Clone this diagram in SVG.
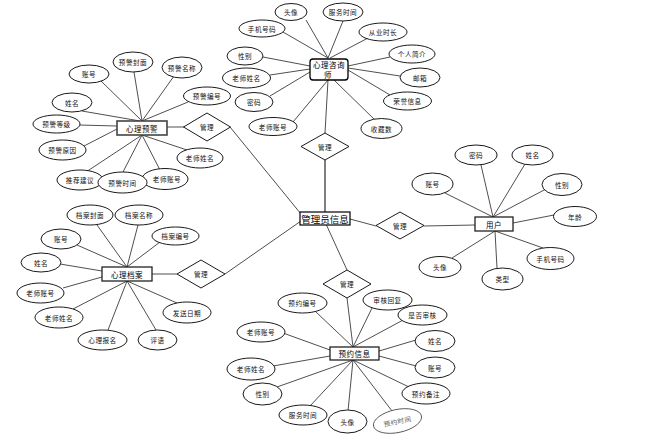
<svg xmlns="http://www.w3.org/2000/svg" width="651" height="435" viewBox="0 0 651 435">
<style>
.e{fill:#fff;stroke:#000;stroke-width:0.9}
.b{fill:#fff;stroke:#000;stroke-width:1.3}
.d{fill:#fff;stroke:#000;stroke-width:0.9}
.t{font-family:"Noto Sans CJK SC","Liberation Sans",sans-serif;font-size:6.6px;text-anchor:middle;dominant-baseline:central;fill:#111;letter-spacing:0.5px}
.tb{font-family:"Noto Sans CJK SC","Liberation Sans",sans-serif;font-size:7.5px;text-anchor:middle;dominant-baseline:central;fill:#000;letter-spacing:0.5px}
.c line{stroke:#222;stroke-width:0.8}
</style>
<rect width="651" height="435" fill="#fff"/>
<g id="connectors" class="c">
<line x1="306" y1="20" x2="328" y2="58"/>
<line x1="343" y1="21" x2="328" y2="58"/>
<line x1="283" y1="32" x2="328" y2="58"/>
<line x1="368" y1="38" x2="330" y2="58"/>
<line x1="263" y1="57" x2="310" y2="66"/>
<line x1="270" y1="75" x2="310" y2="69"/>
<line x1="270" y1="96" x2="310" y2="72"/>
<line x1="293" y1="122" x2="328" y2="80"/>
<line x1="390" y1="57" x2="348" y2="66"/>
<line x1="400" y1="76" x2="348" y2="68"/>
<line x1="390" y1="95" x2="348" y2="70"/>
<line x1="375" y1="120" x2="334" y2="80"/>
<line x1="328" y1="80" x2="325" y2="133"/>
<line x1="325" y1="160" x2="325" y2="212" style="stroke:#555;stroke-width:1.5"/>
<line x1="101" y1="81" x2="142" y2="121"/>
<line x1="134" y1="72" x2="142" y2="121"/>
<line x1="174" y1="76" x2="142" y2="121"/>
<line x1="188" y1="102" x2="142" y2="121"/>
<line x1="82" y1="111" x2="140" y2="121"/>
<line x1="79" y1="125" x2="117" y2="126"/>
<line x1="84" y1="146" x2="117" y2="129"/>
<line x1="86" y1="172" x2="142" y2="135"/>
<line x1="123" y1="172" x2="142" y2="135"/>
<line x1="160" y1="170" x2="142" y2="135"/>
<line x1="187" y1="150" x2="142" y2="135"/>
<line x1="167" y1="127" x2="184" y2="127"/>
<line x1="230" y1="127" x2="301" y2="214"/>
<line x1="97" y1="225" x2="127" y2="267"/>
<line x1="138" y1="225" x2="127" y2="267"/>
<line x1="160" y1="242" x2="127" y2="267"/>
<line x1="77" y1="245" x2="127" y2="267"/>
<line x1="60" y1="264" x2="102" y2="271"/>
<line x1="63" y1="288" x2="102" y2="277"/>
<line x1="73" y1="309" x2="127" y2="281"/>
<line x1="108" y1="330" x2="127" y2="281"/>
<line x1="156" y1="330" x2="127" y2="281"/>
<line x1="177" y1="303" x2="127" y2="281"/>
<line x1="152" y1="274" x2="177" y2="274"/>
<line x1="225" y1="274" x2="301" y2="221"/>
<line x1="350" y1="219" x2="376" y2="226"/>
<line x1="326" y1="224" x2="347" y2="270"/>
<line x1="347" y1="298" x2="353" y2="347"/>
<line x1="424" y1="226" x2="475" y2="225"/>
<line x1="445" y1="193" x2="493" y2="217"/>
<line x1="481" y1="165" x2="493" y2="217"/>
<line x1="525" y1="164" x2="493" y2="217"/>
<line x1="546" y1="189" x2="493" y2="217"/>
<line x1="554" y1="215" x2="513" y2="223"/>
<line x1="543" y1="248" x2="495" y2="231"/>
<line x1="452" y1="258" x2="495" y2="231"/>
<line x1="497" y1="268" x2="495" y2="231"/>
<line x1="316" y1="312" x2="353" y2="347"/>
<line x1="372" y1="308" x2="353" y2="347"/>
<line x1="405" y1="319" x2="353" y2="347"/>
<line x1="283" y1="333" x2="330" y2="350"/>
<line x1="273" y1="366" x2="330" y2="356"/>
<line x1="416" y1="340" x2="379" y2="351"/>
<line x1="416" y1="366" x2="379" y2="356"/>
<line x1="277" y1="387" x2="353" y2="360"/>
<line x1="310" y1="406" x2="353" y2="360"/>
<line x1="348" y1="411" x2="353" y2="360"/>
<line x1="392" y1="411" x2="353" y2="360"/>
<line x1="409" y1="387" x2="353" y2="360"/>
</g>

<g id="zxs">
<rect class="b" x="310" y="59" width="38" height="21" rx="3"/>
<text class="tb" x="329" y="64.5">心理咨询</text>
<text class="tb" x="328" y="74">师</text>
</g>
<g id="zxs-tx"><ellipse class="e" cx="291" cy="12" rx="16" ry="8.5"/><text class="t" x="291" y="12">头像</text></g>
<g id="zxs-fwsj"><ellipse class="e" cx="343" cy="12" rx="20" ry="9"/><text class="t" x="343" y="12">服务时间</text></g>
<g id="zxs-sjhm"><ellipse class="e" cx="262" cy="28.5" rx="23" ry="8.5"/><text class="t" x="262" y="28.5">手机号码</text></g>
<g id="zxs-cysc"><ellipse class="e" cx="383" cy="32" rx="24" ry="9"/><text class="t" x="383" y="32">从业时长</text></g>
<g id="zxs-xb"><ellipse class="e" cx="245" cy="56" rx="18" ry="9"/><text class="t" x="245" y="56">性别</text></g>
<g id="zxs-grjj"><ellipse class="e" cx="412" cy="54" rx="23" ry="9"/><text class="t" x="412" y="54">个人简介</text></g>
<g id="zxs-lsxm"><ellipse class="e" cx="246.5" cy="78" rx="24" ry="10"/><text class="t" x="246.5" y="78">老师姓名</text></g>
<g id="zxs-yx"><ellipse class="e" cx="420" cy="77.5" rx="20" ry="9.5"/><text class="t" x="420" y="77.5">邮箱</text></g>
<g id="zxs-mm"><ellipse class="e" cx="254" cy="102" rx="19" ry="9.5"/><text class="t" x="254" y="102">密码</text></g>
<g id="zxs-ryxx"><ellipse class="e" cx="407.5" cy="101" rx="24" ry="9"/><text class="t" x="407.5" y="101">荣誉信息</text></g>
<g id="zxs-lszh"><ellipse class="e" cx="273" cy="126.5" rx="24" ry="9"/><text class="t" x="273" y="126.5">老师账号</text></g>
<g id="zxs-scs"><ellipse class="e" cx="381.5" cy="128.5" rx="20.5" ry="10"/><text class="t" x="381.5" y="128.5">收藏数</text></g>
<g id="gl-top"><polygon class="d" points="325,133 349,146.5 325,160 301,146.5"/><text class="t" x="325" y="146.5">管理</text></g>

<g id="gly">
<rect x="300" y="212" width="50" height="13" fill="#fff" stroke="#000" stroke-width="1.2"/>
<text x="325" y="218.5" style="font-family:'Noto Sans CJK SC',sans-serif;font-size:9.5px;text-anchor:middle;dominant-baseline:central;fill:#000">管理员信息</text>
</g>

<g id="yj">
<rect x="117" y="121" width="50" height="14" fill="#fff" stroke="#444" stroke-width="1.6"/>
<text class="tb" x="142" y="128">心理预警</text>
</g>
<g id="yj-zh"><ellipse class="e" cx="89" cy="74" rx="20" ry="9"/><text class="t" x="89" y="74">账号</text></g>
<g id="yj-fm"><ellipse class="e" cx="133" cy="62" rx="20" ry="10"/><text class="t" x="133" y="62">预警封面</text></g>
<g id="yj-mc"><ellipse class="e" cx="182" cy="67.5" rx="20" ry="10.5"/><text class="t" x="182" y="67.5">预警名称</text></g>
<g id="yj-bh"><ellipse class="e" cx="207" cy="96" rx="23.5" ry="9"/><text class="t" x="207" y="96">预警编号</text></g>
<g id="yj-xm"><ellipse class="e" cx="72" cy="102.5" rx="20" ry="9.5"/><text class="t" x="72" y="102.5">姓名</text></g>
<g id="yj-dj"><ellipse class="e" cx="56.5" cy="124" rx="23.5" ry="9"/><text class="t" x="56.5" y="124">预警等级</text></g>
<g id="yj-yy"><ellipse class="e" cx="62.5" cy="150" rx="23.5" ry="10"/><text class="t" x="62.5" y="150">预警原因</text></g>
<g id="yj-lsxm"><ellipse class="e" cx="200" cy="158" rx="23" ry="10"/><text class="t" x="200" y="158">老师姓名</text></g>
<g id="yj-tjjy"><ellipse class="e" cx="80" cy="180" rx="23" ry="10"/><text class="t" x="80" y="180">推荐建议</text></g>
<g id="yj-lszh"><ellipse class="e" cx="165" cy="179" rx="23" ry="10.5"/><text class="t" x="167" y="179">老师账号</text></g>
<g id="yj-sj"><ellipse class="e" cx="122.5" cy="182.5" rx="24.5" ry="10.5"/><text class="t" x="122.5" y="182.5">预警时间</text></g>
<g id="gl-yj"><polygon class="d" points="207,113 230.5,127 207,141 183.5,127"/><text class="t" x="207" y="127">管理</text></g>

<g id="da">
<rect x="102" y="267" width="50" height="14" fill="#fff" stroke="#222" stroke-width="1.3"/>
<text class="tb" x="127" y="274">心理档案</text>
</g>
<g id="da-fm"><ellipse class="e" cx="90" cy="215" rx="23" ry="10"/><text class="t" x="90" y="215">档案封面</text></g>
<g id="da-mc"><ellipse class="e" cx="139" cy="215" rx="24" ry="10"/><text class="t" x="139" y="215">档案名称</text></g>
<g id="da-bh"><ellipse class="e" cx="175.5" cy="236" rx="23.5" ry="9"/><text class="t" x="175.5" y="236">档案编号</text></g>
<g id="da-zh"><ellipse class="e" cx="61" cy="239" rx="20" ry="10"/><text class="t" x="61" y="239">账号</text></g>
<g id="da-xm"><ellipse class="e" cx="41" cy="262.5" rx="20" ry="9.5"/><text class="t" x="41" y="262.5">姓名</text></g>
<g id="da-lszh"><ellipse class="e" cx="40.5" cy="293" rx="23.5" ry="10"/><text class="t" x="40.5" y="293">老师账号</text></g>
<g id="da-lsxm"><ellipse class="e" cx="59" cy="317.5" rx="24" ry="10.5"/><text class="t" x="59" y="317.5">老师姓名</text></g>
<g id="da-fsrq"><ellipse class="e" cx="187" cy="312.5" rx="24" ry="10.5"/><text class="t" x="187" y="312.5">发送日期</text></g>
<g id="da-xlbm"><ellipse class="e" cx="102.5" cy="340" rx="24.5" ry="10"/><text class="t" x="102.5" y="340">心理报名</text></g>
<g id="da-py"><ellipse class="e" cx="157.5" cy="340" rx="19.5" ry="10"/><text class="t" x="157.5" y="340">评语</text></g>
<g id="gl-da"><polygon class="d" points="201,260 225,274 201,288 177,274"/><text class="t" x="201" y="274">管理</text></g>

<g id="gl-yh"><polygon class="d" points="400,212 424,225.5 400,239 376,225.5"/><text class="t" x="400" y="225.5">管理</text></g>
<g id="yh">
<rect x="475" y="217" width="38" height="14" fill="#fff" stroke="#222" stroke-width="1.3"/>
<text class="tb" x="494" y="224">用户</text>
</g>
<g id="yh-mm"><ellipse class="e" cx="476" cy="155" rx="21" ry="10"/><text class="t" x="476" y="155">密码</text></g>
<g id="yh-xm"><ellipse class="e" cx="532.5" cy="155" rx="20.5" ry="10"/><text class="t" x="532.5" y="155">姓名</text></g>
<g id="yh-zh"><ellipse class="e" cx="432.5" cy="184" rx="20.5" ry="11"/><text class="t" x="432.5" y="184">账号</text></g>
<g id="yh-xb"><ellipse class="e" cx="562" cy="184.5" rx="20" ry="11"/><text class="t" x="562" y="184.5">性别</text></g>
<g id="yh-nl"><ellipse class="e" cx="575" cy="216.5" rx="21.5" ry="10"/><text class="t" x="575" y="216.5">年龄</text></g>
<g id="yh-sjhm"><ellipse class="e" cx="550.5" cy="258.5" rx="23.5" ry="11"/><text class="t" x="550.5" y="258.5">手机号码</text></g>
<g id="yh-tx"><ellipse class="e" cx="440" cy="267" rx="21" ry="10.5"/><text class="t" x="440" y="267">头像</text></g>
<g id="yh-lx"><ellipse class="e" cx="502.5" cy="279" rx="20.5" ry="11"/><text class="t" x="502.5" y="279">类型</text></g>

<g id="gl-yy"><polygon class="d" points="347,270 371,284 347,298 323,284"/><text class="t" x="347" y="284">管理</text></g>
<g id="yy">
<rect x="330" y="347" width="49" height="13" fill="#fff" stroke="#222" stroke-width="1.3"/>
<text class="tb" x="354.5" y="353.5">预约信息</text>
</g>
<g id="yy-bh"><ellipse class="e" cx="302.5" cy="303" rx="24.5" ry="10"/><text class="t" x="302.5" y="303">预约编号</text></g>
<g id="yy-shhf"><ellipse class="e" cx="387.5" cy="300" rx="24.5" ry="10"/><text class="t" x="387.5" y="300">审核回复</text></g>
<g id="yy-sfsh"><ellipse class="e" cx="422.5" cy="315" rx="24.5" ry="10"/><text class="t" x="422.5" y="315">是否审核</text></g>
<g id="yy-lszh"><ellipse class="e" cx="261" cy="332" rx="24" ry="10"/><text class="t" x="261" y="332">老师账号</text></g>
<g id="yy-xm"><ellipse class="e" cx="435" cy="341" rx="20" ry="10.5"/><text class="t" x="435" y="341">姓名</text></g>
<g id="yy-lsxm"><ellipse class="e" cx="251" cy="369" rx="24" ry="11"/><text class="t" x="251" y="369">老师姓名</text></g>
<g id="yy-zh"><ellipse class="e" cx="435" cy="367.5" rx="20" ry="10.5"/><text class="t" x="435" y="367.5">账号</text></g>
<g id="yy-xb"><ellipse class="e" cx="262.5" cy="394" rx="19.5" ry="11"/><text class="t" x="262.5" y="394">性别</text></g>
<g id="yy-bz"><ellipse class="e" cx="426" cy="393.5" rx="24" ry="10.5"/><text class="t" x="426" y="393.5">预约备注</text></g>
<g id="yy-fwsj"><ellipse class="e" cx="303" cy="415" rx="24" ry="10"/><text class="t" x="303" y="415">服务时间</text></g>
<g id="yy-tx"><ellipse class="e" cx="347.5" cy="421.5" rx="19.5" ry="11.5"/><text class="t" x="347.5" y="421.5">头像</text></g>
<g id="yy-yysj" transform="rotate(-12 397.5 421)"><ellipse class="e" cx="397.5" cy="421" rx="24.5" ry="11.5" style="stroke:#555"/><text class="t" x="397.5" y="421" style="fill:#555">预约时间</text></g>
</svg>
